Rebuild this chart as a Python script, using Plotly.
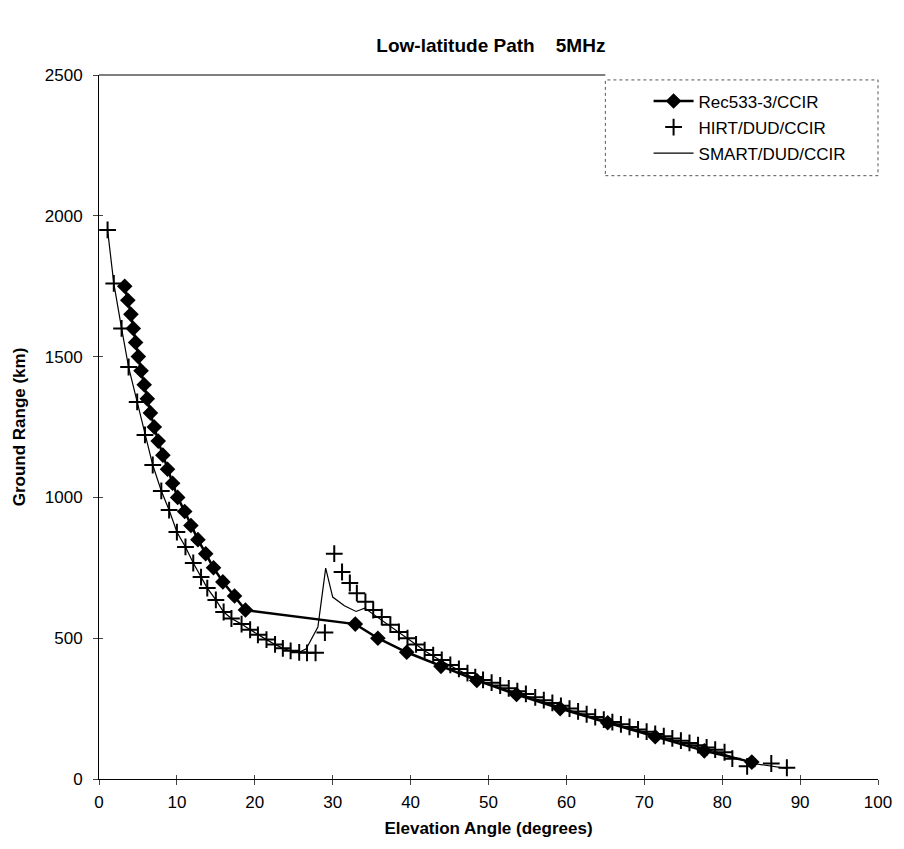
import plotly.graph_objects as go

# ---- data ----
rec_angle = [3.3, 3.7, 4.1, 4.4, 4.7, 5.05, 5.4, 5.8, 6.2, 6.6, 7.1, 7.6, 8.2, 8.8,
             9.45, 10.1, 11.0, 11.8, 12.7, 13.7, 14.7, 15.9, 17.4, 18.8,
             32.9, 35.8, 39.5, 43.9, 48.5, 53.6, 59.2, 65.3, 71.4, 77.7, 83.8]
rec_range = [1750, 1700, 1650, 1600, 1550, 1500, 1450, 1400, 1350, 1300, 1250, 1200,
             1150, 1100, 1050, 1000, 950, 900, 850, 800, 750, 700, 650, 600,
             550, 500, 450, 400, 350, 300, 250, 200, 150, 100, 60]

hirt_angle = [1.1, 1.9, 2.9, 3.8, 4.9, 5.9, 6.9, 8.0, 9.0, 10.0, 11.1, 12.1, 13.1, 13.9,
              15.0, 16.0, 17.0, 18.3, 19.4, 20.4, 21.5, 22.6, 23.6, 24.6, 25.7, 26.7,
              27.8, 29.0, 30.2, 31.2, 32.2, 33.1, 34.2, 35.2, 36.3, 37.4, 38.5, 39.6,
              40.7, 41.8, 42.9, 44.0, 45.1, 46.2, 47.3, 48.3, 49.3, 50.4, 51.5, 52.6,
              53.7, 54.8, 56.0, 57.1, 58.2, 59.3, 60.4, 61.5, 62.6, 63.7, 64.8, 65.9,
              67.0, 68.1, 69.2, 70.3, 71.4, 72.5, 73.6, 74.7, 75.8, 76.9, 78.0, 79.1,
              80.3, 81.3, 83.2, 86.3, 88.3]
hirt_range = [1950, 1760, 1600, 1463, 1339, 1222, 1115, 1023, 955, 877, 824, 767, 717, 678,
              636, 593, 570, 550, 530, 512, 495, 478, 464, 455, 450, 448,
              448, 520, 800, 735, 696, 660, 629, 600, 575, 548, 522, 500,
              478, 458, 440, 423, 405, 391, 376, 362, 352, 342, 332, 322,
              312, 302, 290, 280, 270, 260, 250, 240, 230, 220, 211, 202,
              194, 185, 176, 168, 160, 152, 144, 136, 128, 120, 112, 104,
              95, 72, 45, 55, 40]

smart_angle = [1.1, 1.9, 2.9, 3.8, 4.9, 5.9, 6.9, 8.0, 9.0, 10.0, 11.1, 12.1, 13.1, 13.9,
               15.0, 16.0, 17.0, 18.3, 19.4, 20.4, 21.5, 22.6, 23.6, 24.6, 25.7, 26.6,
               28.1, 29.1, 30.0, 31.5, 33.0, 34.1, 36.0, 38.0, 40.0, 42.0, 44.0, 46.0,
               48.0, 50.0, 53.0, 56.0, 60.0, 65.0, 70.0, 75.0, 80.0, 84.0, 88.3]
smart_range = [1950, 1760, 1600, 1463, 1339, 1222, 1115, 1023, 955, 877, 824, 767, 717, 678,
               636, 593, 570, 550, 530, 512, 495, 478, 464, 455, 450, 462,
               540, 749, 646, 615, 595, 607, 570, 530, 490, 452, 418, 388,
               360, 338, 310, 285, 247, 206, 166, 128, 90, 55, 38]

x_ticks = [0, 10, 20, 30, 40, 50, 60, 70, 80, 90, 100]
y_ticks = [0, 500, 1000, 1500, 2000, 2500]

FONT = "Liberation Sans, Arial, sans-serif"

fig = go.Figure()
fig.add_trace(go.Scatter(
    x=rec_angle, y=rec_range, name="Rec533-3/CCIR", mode="lines+markers",
    line=dict(color="black", width=2.5),
    marker=dict(symbol="diamond", size=12, color="black"),
    legendgroup="a"))
fig.add_trace(go.Scatter(
    x=hirt_angle, y=hirt_range, name="HIRT/DUD/CCIR", mode="markers",
    marker=dict(symbol="cross-thin", size=12, color="black",
                line=dict(color="black", width=2)),
    legendgroup="b"))
fig.add_trace(go.Scatter(
    x=smart_angle, y=smart_range, name="SMART/DUD/CCIR", mode="lines",
    line=dict(color="black", width=1.2),
    legendgroup="c"))
# empty trace so the overlay axes (inner half of the crossing ticks) are drawn
fig.add_trace(go.Scatter(x=[], y=[], xaxis="x2", yaxis="y2", showlegend=False,
                         hoverinfo="skip"))

fig.update_layout(
    width=904, height=849,
    margin=dict(l=99, r=24, t=75, b=70),
    paper_bgcolor="white", plot_bgcolor="white",
    font=dict(family=FONT, size=17, color="black"),
    title=dict(text="<b>Low-latitude Path\u00a0\u00a0\u00a0\u00a05MHz</b>",
               x=0.543, xanchor="center", y=0.946, yanchor="middle",
               font=dict(size=19, family=FONT)),
    xaxis=dict(range=[0, 100], tickvals=x_ticks, ticks="outside", ticklen=5,
               showline=True, linecolor="black", linewidth=1, showgrid=False,
               zeroline=False, ticklabelstandoff=3,
               title=dict(text="<b>Elevation Angle (degrees)</b>", standoff=10,
                          font=dict(size=17, family=FONT)),
               tickfont=dict(size=17, family=FONT)),
    yaxis=dict(range=[0, 2500], tickvals=y_ticks, ticks="outside", ticklen=5,
               showline=True, linecolor="black", linewidth=1, showgrid=False,
               zeroline=False, ticklabelstandoff=7,
               title=dict(text="<b>Ground Range (km)</b>", standoff=14,
                          font=dict(size=17, family=FONT)),
               tickfont=dict(size=17, family=FONT)),
    xaxis2=dict(range=[0, 100], tickvals=x_ticks, ticks="inside", ticklen=4,
                overlaying="x", side="bottom", showticklabels=False,
                showline=False, showgrid=False, zeroline=False),
    yaxis2=dict(range=[0, 2500], tickvals=y_ticks, ticks="inside", ticklen=4,
                overlaying="y", side="left", showticklabels=False,
                showline=False, showgrid=False, zeroline=False),
    legend=dict(x=0.7055, xanchor="left", y=0.988, yanchor="top",
                bgcolor="rgba(0,0,0,0)", borderwidth=0,
                font=dict(size=17, family=FONT), tracegroupgap=1,
                itemwidth=40),
    shapes=[
        dict(type="line", xref="paper", yref="paper", x0=0, x1=0.65, y0=1, y1=1,
             line=dict(color="black", width=1)),
        dict(type="rect", xref="paper", yref="paper", x0=0.65, x1=1.0,
             y0=0.857, y1=0.993, line=dict(color="#555", width=1, dash="dot"),
             layer="above"),
    ],
)

fig.write_html("out.html")
